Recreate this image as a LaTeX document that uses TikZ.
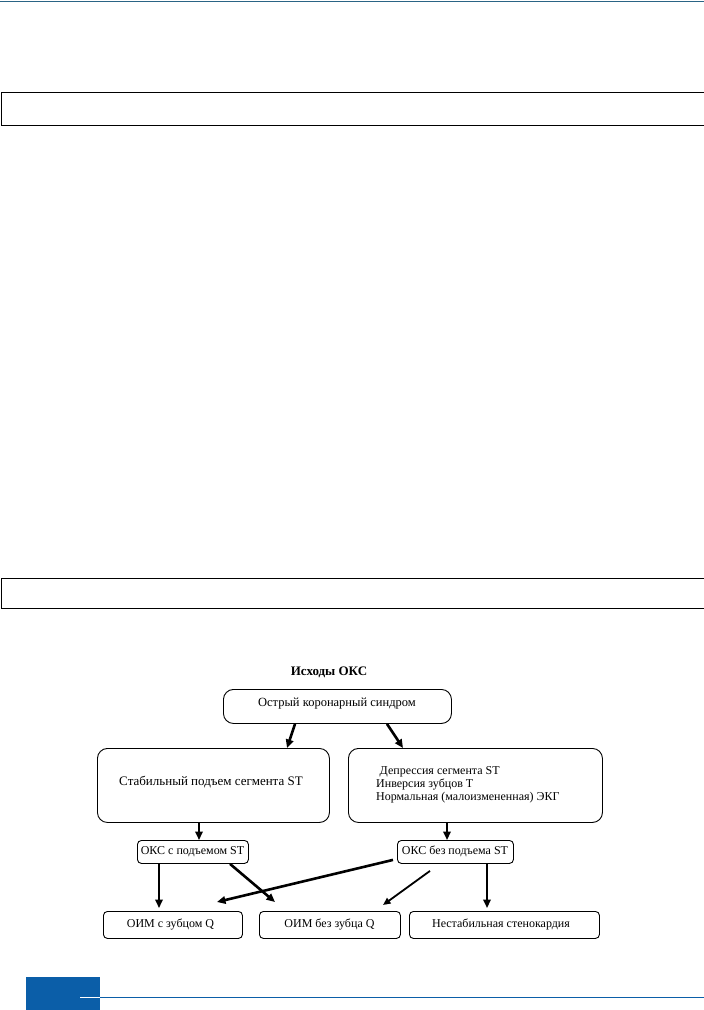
\documentclass[tikz,border=0pt]{standalone}
\usepackage{fontspec}
\setmainfont{Liberation Serif}
\usetikzlibrary{arrows.meta,calc}
\definecolor{topline}{HTML}{2A6485}
\definecolor{footblue}{HTML}{0B5EA8}
\begin{document}
\begin{tikzpicture}[x=1pt,y=-1pt,
  frame/.style={draw=black,line width=1pt},
  bigbox/.style={draw=black,line width=0.9pt,rounded corners=10pt,anchor=north west,inner sep=0pt},
  smallbox/.style={draw=black,line width=0.9pt,rounded corners=4pt,anchor=north west,inner sep=0pt},
  lbl/.style={font=\fontsize{12}{13}\selectfont},
  arr/.style={line width=2.6pt,-{Triangle[length=8.5pt,width=7.5pt]}},
  thinarr/.style={line width=1.8pt,-{Triangle[length=7.5pt,width=6.5pt]}}]
\useasboundingbox (0,0) rectangle (704,1010);
% header line
\draw[topline,line width=1.6pt] (0,1.5) -- (704,1.5);
% empty frames
\node[frame,anchor=north west,minimum width=703pt,minimum height=33pt,inner sep=0pt] (fr1) at (0.5,92) {};
\node[frame,anchor=north west,minimum width=703pt,minimum height=30pt,inner sep=0pt] (fr2) at (0.5,578) {};
% title
\node[font=\bfseries\fontsize{13}{15}\selectfont] (title) at (329,672) {Исходы ОКС};
% boxes
\node[bigbox,minimum width=228pt,minimum height=34pt] (top) at (223,689) {};
\node[lbl,font=\fontsize{12.5}{14}\selectfont] (toptext) at (337,704) {Острый коронарный синдром};
\node[bigbox,minimum width=232pt,minimum height=74pt] (left) at (97,748) {};
\node[lbl,font=\fontsize{13}{14}\selectfont] (lefttext) at (211,782) {Стабильный подъем сегмента ST};
\node[bigbox,minimum width=254pt,minimum height=74pt] (right) at (348,748) {};
\node[anchor=west,align=left,inner sep=0pt,font=\fontsize{12}{13.2}\selectfont] (righttext) at (376,785) {\hspace{3.5pt}Депрессия сегмента ST\\Инверсия зубцов Т\\Нормальная (малоизмененная) ЭКГ};
\node[smallbox,minimum width=111pt,minimum height=23pt] (ls) at (137,840) {};
\node[lbl] (lstext) at (192.5,851.5) {ОКС с подъемом ST};
\node[smallbox,minimum width=116pt,minimum height=23pt] (rs) at (397,840) {};
\node[lbl] (rstext) at (455,851.5) {ОКС без подъема ST};
\node[smallbox,minimum width=139pt,minimum height=27pt] (b1) at (103,911) {};
\node[lbl] (b1text) at (170.5,924.5) {ОИМ с зубцом Q};
\node[smallbox,minimum width=141pt,minimum height=27pt] (b2) at (259,911) {};
\node[lbl] (b2text) at (329.5,924.5) {ОИМ без зубца Q};
\node[smallbox,minimum width=190pt,minimum height=27pt] (b3) at (409,911) {};
\node[lbl] (b3text) at (501,924.5) {Нестабильная стенокардия};
% arrows
\draw[arr] ([xshift=72pt]top.south west) -- ([xshift=190pt]left.north west);
\draw[arr] ([xshift=164pt]top.south west) -- ([xshift=55pt]right.north west);
\draw[arr] ([xshift=102pt]left.south west) -- ([xshift=62pt]ls.north west);
\draw[arr] ([xshift=99pt]right.south west) -- ([xshift=50pt]rs.north west);
\draw[arr] ([xshift=22pt]ls.south west) -- ([xshift=56pt,yshift=3pt]b1.north west);
\draw[arr] ([xshift=93pt]ls.south west) -- ([xshift=16pt,yshift=9pt]b2.north west);
\draw[arr] ([xshift=-4pt,yshift=4pt]rs.south west) -- ([xshift=114pt,yshift=9pt]b1.north west);
\draw[thinarr] ([xshift=33pt,yshift=-7pt]rs.south west) -- ([xshift=124pt,yshift=6pt]b2.north west);
\draw[arr] ([xshift=90pt]rs.south west) -- ([xshift=78pt,yshift=3pt]b3.north west);
% footer
\fill[footblue] (26,977) rectangle (100,1010);
\coordinate (fl) at (100,997);
\coordinate (fr) at (704,997);
\draw[footblue,line width=1pt] (fl) -- (fr);
\draw[white,line width=1pt] (80,997) -- (fl);
\end{tikzpicture}
\end{document}
